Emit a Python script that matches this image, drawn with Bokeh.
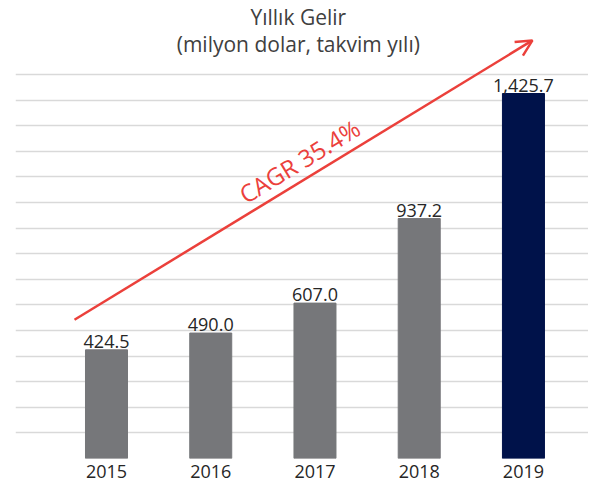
from bokeh.plotting import figure
from bokeh.models import (ColumnDataSource, FixedTicker, Arrow, OpenHead, Label, Range1d)
from bokeh.core.properties import value
from bokeh.embed import file_html
from bokeh.resources import INLINE

years = ["2015", "2016", "2017", "2018", "2019"]
revenue = [424.5, 490.0, 607.0, 937.2, 1425.7]
bar_colors = ["#76777A", "#76777A", "#76777A", "#76777A", "#00124A"]
title_lines = ["Yıllık Gelir", "(milyon dolar, takvim yılı)"]
cagr_text = "CAGR 35.4%"
grid_ticks = list(range(0, 1501, 100))

FONT = "Open Sans"
RED = "#EB403B"

xs = list(range(len(years)))
src = ColumnDataSource(dict(
    x=xs, top=revenue, color=bar_colors,
    label=[f"{v:,.1f}" for v in revenue],
))

p = figure(width=588, height=484, output_backend="svg", toolbar_location=None,
           x_range=Range1d(-0.873, 4.624), y_range=Range1d(0, 1789),
           min_border_left=15, min_border_right=0, min_border_top=0,
           min_border_bottom=26)

p.vbar(x="x", top="top", width=0.403, color="color", source=src)
p.text(x="x", y="top", text="label", source=src, text_align="center",
       text_baseline="bottom", y_offset=-2, text_font=value(FONT),
       text_font_size="18px", text_color="#262626")

p.outline_line_color = None
p.yaxis.visible = False
p.xgrid.grid_line_color = None
p.ygrid.ticker = FixedTicker(ticks=grid_ticks)
p.ygrid.grid_line_color = "#D9D9D9"
p.ygrid.grid_line_width = 1.5

p.xaxis.ticker = FixedTicker(ticks=xs)
p.xaxis.major_label_overrides = {i: y for i, y in enumerate(years)}
p.xaxis.axis_line_color = None
p.xaxis.major_tick_line_color = None
p.xaxis.minor_tick_line_color = None
p.xaxis.major_tick_out = 0
p.xaxis.major_tick_in = 0
p.xaxis.major_label_standoff = 6
p.xaxis.major_label_text_font = FONT
p.xaxis.major_label_text_font_size = "18px"
p.xaxis.major_label_text_color = "#262626"

# title (two centred lines above the grid)
TITLE_X = 1.84
TITLE_Y = [1723, 1621]
for txt, ty in zip(title_lines, TITLE_Y):
    p.add_layout(Label(x=TITLE_X, y=ty, text=txt, text_align="center",
                       text_baseline="middle", text_font=FONT,
                       text_font_size="21px", text_color="#404040"))

ARROW_START = (-0.307, 542)
ARROW_END = (4.086, 1633)
p.add_layout(Arrow(end=OpenHead(size=16, line_color=RED, line_width=2.5),
                   x_start=ARROW_START[0], y_start=ARROW_START[1],
                   x_end=ARROW_END[0], y_end=ARROW_END[1],
                   line_color=RED, line_width=2.5))

p.add_layout(Label(x=1.85, y=1162, text=cagr_text, angle=0.547,
                   text_align="center", text_baseline="middle",
                   text_font=FONT, text_font_size="24px", text_color=RED))

open("out.html", "w").write(file_html(p, INLINE))
